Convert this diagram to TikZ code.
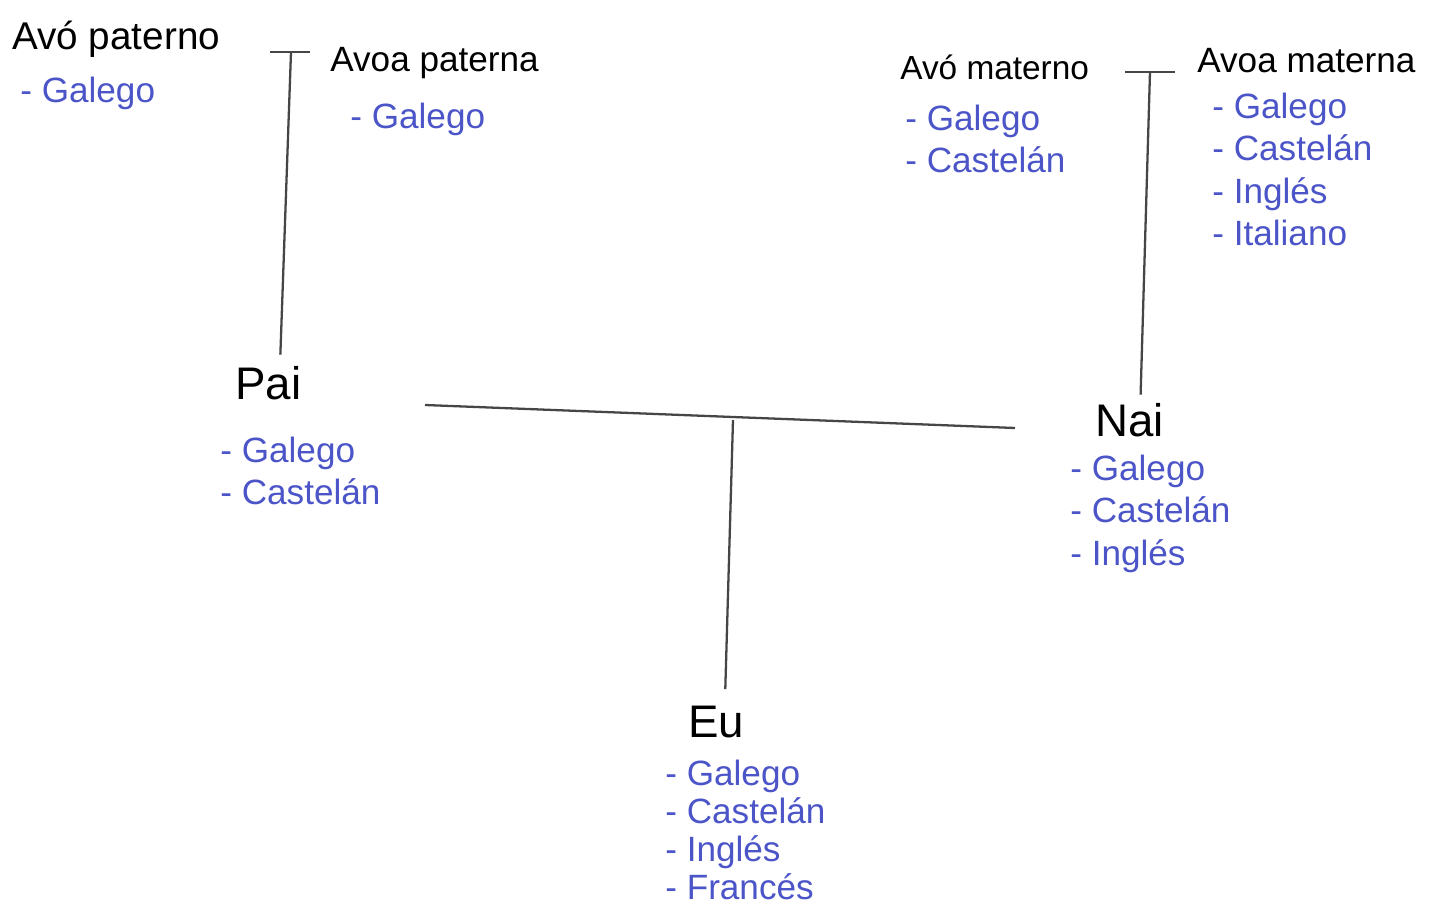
\documentclass[tikz,border=0pt]{standalone}
\usepackage{fontspec}
\setmainfont{Liberation Sans}
\usepackage{xcolor}
\definecolor{ink}{RGB}{75,85,200}
\definecolor{pencil}{RGB}{70,70,70}

\begin{document}
\begin{tikzpicture}[
    x=0.02cm, y=-0.02cm,
    person/.style={anchor=base west, inner sep=0pt, font=\fontsize{22}{26}\selectfont},
    big/.style={font=\fontsize{26}{30}\selectfont},
    langs/.style={anchor=north west, inner sep=0pt, align=left, text=ink, font=\fontsize{20}{24}\selectfont},
    line/.style={draw=pencil, line width=1.3pt}
]
    \useasboundingbox (0,0) rectangle (1445,905);

    % Place nodes
    \node[person] (avopat) at (12,50) {Avó paterno};
    \node[langs] (avopatl) at (20,77) {- Galego};
    \node[person, font=\fontsize{20}{24}\selectfont] (avoapat) at (330,72) {Avoa paterna};
    \node[langs] (avoapatl) at (350,103) {- Galego};

    \node[person, font=\fontsize{19}{24}\selectfont] (avomat) at (900,80) {Avó materno};
    \node[langs] (avomatl) at (905,105) {- Galego\\- Castelán};
    \node[person, font=\fontsize{20}{24}\selectfont] (avoamat) at (1197,73) {Avoa materna};
    \node[langs] (avoamatl) at (1212,93) {- Galego\\- Castelán\\- Inglés\\- Italiano};

    \node[person, big] (pai) at (235,400) {Pai};
    \node[langs] (pail) at (220,437) {- Galego\\- Castelán};
    \node[person, big] (nai) at (1095,437) {Nai};
    \node[langs] (nail) at (1070,455) {- Galego\\- Castelán\\- Inglés};

    \node[person, big] (eu) at (688,738) {Eu};
    \node[langs, font=\fontsize{20}{21.6}\selectfont] (eul) at (665,760) {- Galego\\- Castelán\\- Inglés\\- Francés};

    % Bars and joints
    \coordinate (pbarL) at (270,52);
    \coordinate (pbarR) at (310,52);
    \coordinate (pbarM) at (291,52);
    \coordinate (mbarL) at (1125,72);
    \coordinate (mbarR) at (1175,72);
    \coordinate (mbarM) at (1150,72);
    \coordinate (coupleL) at (425,405);
    \coordinate (coupleR) at (1015,428);
    \coordinate (coupleM) at (733,420);

    % Add connections
    \draw[line] (pbarL) -- (pbarR);
    \draw[line] (pbarM) -- ([xshift=0.24cm, yshift=0.24cm]pai.north);
    \draw[line] (mbarL) -- (mbarR);
    \draw[line] (mbarM) -- ([xshift=0.22cm, yshift=0.18cm]nai.north);
    \draw[line] (coupleL) -- (coupleR);
    \draw[line] (coupleM) -- ([xshift=0.18cm, yshift=0.34cm]eu.north);
\end{tikzpicture}
\end{document}
